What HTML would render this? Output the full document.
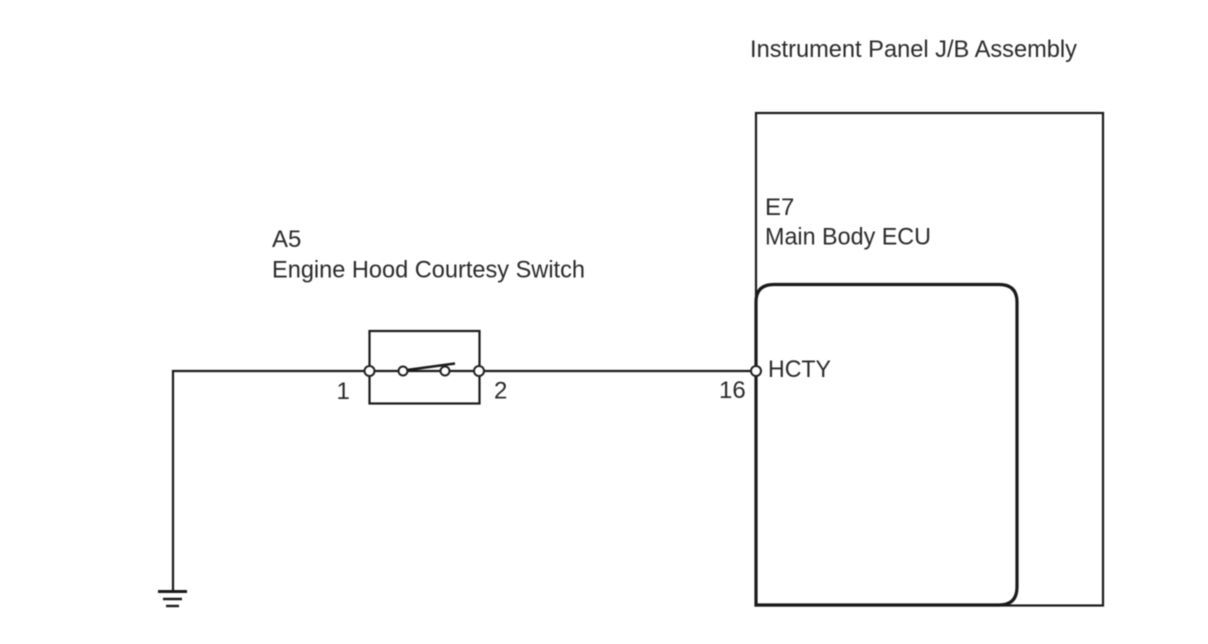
<!DOCTYPE html>
<html>
<head>
<meta charset="utf-8">
<style>
html,body{margin:0;padding:0;background:#fff;}
svg{display:block;filter:blur(0.4px);}
text{font-family:"Liberation Sans",sans-serif;font-size:24px;fill:#2a2a2a;}
</style>
</head>
<body>
<svg width="1208" height="644" viewBox="0 0 1208 644" xmlns="http://www.w3.org/2000/svg">
<g fill="none" stroke="#1a1a1a" stroke-width="2.2">
  <rect x="756" y="113" width="347" height="492.500"/>
  <rect x="369.500" y="331" width="110" height="72.500"/>
  <path d="M173 590V371H756"/>
  <path d="M756 605V302Q756 284.500 774 284.500H999Q1017 284.500 1017 302V587Q1017 605 999 605H756Z" stroke-width="3.200"/>
  <path d="M158 591.500H187" stroke-width="3"/>
  <path d="M163 599H182" stroke-width="2.400"/>
  <path d="M166 606H179" stroke-width="2.400"/>
  <path d="M403 370.500L455 363.500" stroke-width="2.400"/>
</g>
<g fill="#fff" stroke="#222" stroke-width="2">
  <circle cx="369.500" cy="371" r="5"/>
  <circle cx="479" cy="371" r="5"/>
  <circle cx="403" cy="371" r="4.500"/>
  <circle cx="445" cy="371" r="4.500"/>
  <circle cx="756" cy="371" r="5"/>
</g>
<text x="750" y="57" textLength="327" lengthAdjust="spacingAndGlyphs">Instrument Panel J/B Assembly</text>
<text x="765" y="215">E7</text>
<text x="765" y="244.500" textLength="166" lengthAdjust="spacingAndGlyphs">Main Body ECU</text>
<text x="272" y="247">A5</text>
<text x="272" y="277.500" textLength="313" lengthAdjust="spacingAndGlyphs">Engine Hood Courtesy Switch</text>
<text x="768" y="377" textLength="63" lengthAdjust="spacingAndGlyphs">HCTY</text>
<text x="336.500" y="399">1</text>
<text x="494" y="398.500">2</text>
<text x="719" y="398">16</text>
</svg>
</body>
</html>
